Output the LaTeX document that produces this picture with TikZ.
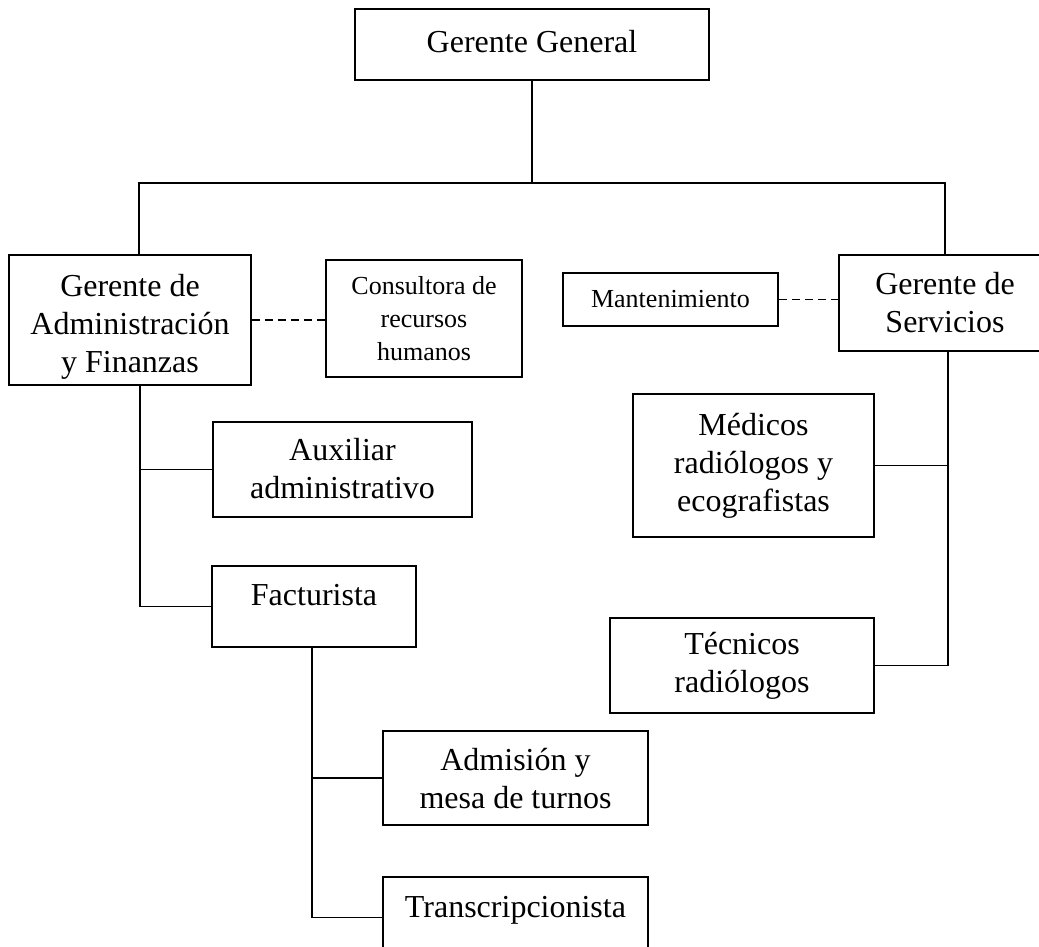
\documentclass[tikz,border=0pt]{standalone}
\usepackage{fontspec}
\setmainfont{Liberation Serif}
\newcommand{\stackedtext}[2]{\raisebox{#1}[\height][\depth]{\begin{tabular}{@{}c@{}}#2\end{tabular}}}
\begin{document}
\begin{tikzpicture}[x=1pt,y=-1pt,
  box/.style={draw, line width=1.8pt, inner sep=0pt, align=center, font=\fontsize{32}{38}\selectfont},
  smallbox/.style={box, font=\fontsize{26}{33}\selectfont},
  link/.style={line width=1.8pt},
  dotlink/.style={line width=1.5pt, dash pattern=on 8pt off 5pt}]
\useasboundingbox (0,0) rectangle (1039,947);
\clip (0,0) rectangle (1039,947);

\node[box, minimum width=354, minimum height=71] (gg) at (532,44.5) {\raisebox{3pt}[\height][\depth]{Gerente General}};
\node[box, minimum width=242, minimum height=130] (adm) at (130,320) {\stackedtext{-7pt}{Gerente de\\Administración\\y Finanzas}};
\node[smallbox, minimum width=196, minimum height=117] (con) at (424,318.5) {Consultora de\\recursos\\humanos};
\node[smallbox, minimum width=215, minimum height=53] (man) at (670.5,299.5) {Mantenimiento};
\node[box, minimum width=212, minimum height=96] (ser) at (945,303) {Gerente de\\Servicios};
\node[box, minimum width=259, minimum height=95] (aux) at (342.5,469.5) {\stackedtext{-2pt}{Auxiliar\\administrativo}};
\node[box, minimum width=204, minimum height=81] (fac) at (314,606.5) {\raisebox{11pt}[\height][\depth]{Facturista}};
\node[box, minimum width=241, minimum height=143] (med) at (753.5,465.5) {Médicos\\radiólogos y\\ecografistas};
\node[box, minimum width=264, minimum height=95] (tec) at (742,665.5) {Técnicos\\radiólogos};
\node[box, minimum width=265, minimum height=94] (adi) at (515.5,778) {\stackedtext{-4pt}{Admisión y\\mesa de turnos}};
\node[box, minimum width=265, minimum height=81] (tra) at (515.5,917.5) {\raisebox{7pt}[\height][\depth]{Transcripcionista}};

\coordinate (bus) at (532,183);
\coordinate (lv) at (140,0);
\coordinate (fv) at (312,0);
\coordinate (sv) at (948,0);

\draw[link] (gg.south) -- (bus);
\draw[link] ([xshift=9pt]adm.north) |- (bus) -| (ser.north);
\draw[link] (adm.south -| lv) |- (fac.west);
\draw[link] (aux.west) -- (aux.west -| lv);
\draw[link] (fac.south -| fv) |- (tra.west);
\draw[link] (adi.west) -- (adi.west -| fv);
\draw[link] (ser.south -| sv) |- (tec.east);
\draw[link] (med.east) -- (med.east -| sv);

\draw[dotlink] (adm.east) -- (adm.east -| con.west);
\draw[dotlink] (man.east) -- (man.east -| ser.west);
\end{tikzpicture}
\end{document}
